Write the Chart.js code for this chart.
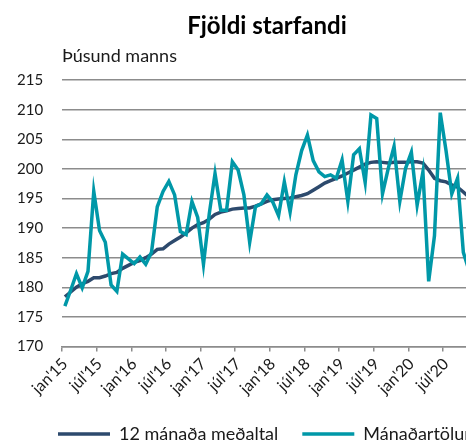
<!DOCTYPE html>
<html>
<head>
<meta charset="utf-8">
<script src="https://cdn.jsdelivr.net/npm/chart.js@4"></script>
<style>
  html, body { margin: 0; padding: 0; overflow: hidden; background: #fff; }
  #wrap { width: 512px; height: 453px; }
</style>
</head>
<body>
<div id="wrap"><canvas id="starfandiChart"></canvas></div>
<script>
// Mánuðir og ár á x-ás (jan'15 - nóv'20)
const manudir = ["jan", "feb", "mar", "apr", "maí", "jún", "júl", "ágú", "sep", "okt", "nóv", "des"];
const ar = ["15", "16", "17", "18", "19", "20"];
const timabil = [];
ar.forEach((a) => manudir.forEach((m) => timabil.push(m + "'" + a)));
timabil.length = 71;

// Þúsund manns
const medaltal = [
  178.4, 179.2, 180.0, 180.6, 181.0, 181.6, 181.6, 181.9, 182.3, 182.5, 183.2, 183.7,
  184.2, 184.5, 185.0, 185.6, 186.4, 186.5, 187.3, 187.9, 188.5, 189.2, 190.0, 190.6,
  190.9, 191.5, 192.3, 192.7, 192.9, 193.2, 193.3, 193.4, 193.4, 193.7, 194.1, 194.5,
  194.8, 194.9, 195.0, 195.1, 195.3, 195.5, 195.8, 196.4, 197.0, 197.6, 198.0, 198.4,
  198.8, 199.3, 199.8, 200.3, 200.8, 201.1, 201.2, 201.1, 201.0, 201.1, 201.1, 201.1,
  201.2, 201.2, 201.0, 199.8, 198.4, 198.0, 197.8, 197.3, 196.9, 196.1, 195.2,
];
const manadartolur = [
  176.8, 179.5, 182.3, 179.9, 182.7, 196.2, 189.6, 187.6, 180.4, 179.3, 185.6, 184.8,
  184.0, 185.1, 183.9, 185.9, 193.6, 196.2, 197.9, 195.6, 189.4, 188.9, 194.5, 191.8,
  183.9, 192.4, 199.2, 193.0, 193.0, 201.2, 199.8, 195.6, 187.6, 193.6, 194.1, 195.6,
  194.4, 192.1, 197.8, 192.7, 199.0, 203.1, 205.7, 201.4, 199.5, 198.7, 199.0, 198.4,
  201.5, 194.5, 202.4, 203.4, 197.7, 209.1, 208.5, 195.8, 200.1, 203.8, 194.5, 200.1,
  202.8, 193.9, 199.5, 181.0, 188.7, 209.5, 203.1, 195.8, 198.4, 185.9, 182.8,
];

const gridGrar = "#8c8c8c";
const letur = "Lato";
const textalitur = "#1a1a1a";

const ctx = document.getElementById("starfandiChart").getContext("2d");

const starfandiChart = new Chart(ctx, {
  type: "line",
  data: {
    labels: timabil,
    datasets: [
      {
        label: "12 mánaða meðaltal",
        data: medaltal,
        borderColor: "#2d4a6d",
        backgroundColor: "#2d4a6d",
        borderWidth: 3.5,
        pointRadius: 0,
        order: 1,
      },
      {
        label: "Mánaðartölur",
        data: manadartolur,
        borderColor: "#0098a8",
        backgroundColor: "#0098a8",
        borderWidth: 3.5,
        pointRadius: 0,
        order: 0, // teiknað ofan á
      },
    ],
  },
  options: {
    responsive: true,
    maintainAspectRatio: false,
    animation: false,
    layout: { padding: { left: 34, right: 0, top: 0, bottom: 0 } },
    plugins: {
      title: {
        display: true,
        fullSize: false,
        text: "Fjöldi starfandi",
        color: "#000",
        font: { family: letur, size: 24, weight: "bold" },
        padding: { top: 12, bottom: 5 },
      },
      subtitle: {
        display: true,
        fullSize: false,
        text: "Þúsund manns",
        align: "start",
        color: textalitur,
        font: { family: letur, size: 18 },
        padding: { top: 0, bottom: 12.7 },
      },
      legend: {
        position: "bottom",
        align: "start",
        labels: {
          boxWidth: 52,
          boxHeight: 0,
          padding: 24,
          color: textalitur,
          font: { family: letur, size: 18 },
          sort: (a, b) => a.datasetIndex - b.datasetIndex,
        },
      },
      tooltip: { enabled: false },
    },
    scales: {
      x: {
        offset: true,
        grid: {
          offset: true,
          drawOnChartArea: false,
          tickLength: 5,
          lineWidth: 1.5,
          color: (c) => (c.index % 6 === 0 ? gridGrar : "rgba(0,0,0,0)"),
        },
        border: { display: true, color: gridGrar, width: 1.5 },
        ticks: {
          autoSkip: false,
          minRotation: 45,
          maxRotation: 45,
          padding: 3,
          color: textalitur,
          font: { family: letur, size: 16 },
          callback: (v, i) => (i % 6 === 0 ? timabil[i] : ""),
        },
        // myndin er skorin hægra megin, x-ás nær út að 472px
        afterFit: (s) => {
          s.paddingLeft = 0;
          s.paddingRight = 40;
        },
      },
      y: {
        min: 170,
        max: 215,
        ticks: {
          stepSize: 5,
          mirror: true,
          crossAlign: "far",
          padding: -45,
          color: textalitur,
          font: { family: letur, size: 15 },
        },
        grid: { color: gridGrar, lineWidth: 1.5, drawTicks: false },
        border: { display: false },
        afterFit: (s) => {
          s.width = 28;
        },
      },
    },
  },
});
</script>
</body>
</html>
